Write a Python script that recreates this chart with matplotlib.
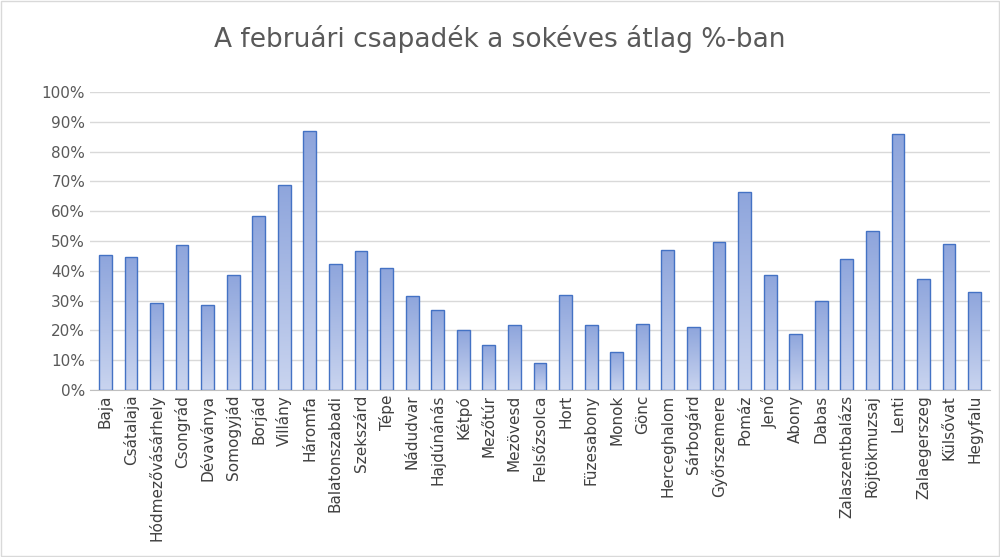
import matplotlib
matplotlib.use("Agg")
import matplotlib.pyplot as plt
import numpy as np
from matplotlib.patches import Rectangle

cities = ["Baja","Csátalaja","Hódmezővásárhely","Csongrád","Dévaványa","Somogyjád","Borjád","Villány","Háromfa","Balatonszabadi","Szekszárd","Tépe","Nádudvar","Hajdúnánás","Kétpó","Mezőtúr","Mezövesd","Felsőzsolca","Hort","Füzesabony","Monok","Gönc","Herceghalom","Sárbogárd","Győrszemere","Pomáz","Jenő","Abony","Dabas","Zalaszentbalázs","Röjtökmuzsaj","Lenti","Zalaegerszeg","Külsővat","Hegyfalu"]
values = [45.3,44.5,29.2,48.6,28.5,38.7,58.2,68.8,86.9,42.3,46.6,41.0,31.6,26.8,20.1,15.1,21.8,9.0,32.0,21.8,12.8,22.1,47.1,21.1,49.5,66.4,38.4,18.8,29.9,44.0,53.3,85.9,37.3,49.0,32.9]

fig = plt.figure(figsize=(10, 5.57), dpi=100)
ax = fig.add_axes([0.09, 0.30, 0.90, 0.535])
x = np.arange(len(cities))
bars = ax.bar(x, values, width=0.5, color="none", edgecolor="#4472c4", linewidth=1.0, zorder=3)
grad = np.linspace(0, 1, 256).reshape(-1, 1)
from matplotlib.colors import LinearSegmentedColormap
cmap = LinearSegmentedColormap.from_list("g", ["#c9d4ef", "#8ea5dc"])
for b in bars:
    im = ax.imshow(grad, cmap=cmap, aspect="auto", origin="lower",
                   extent=[b.get_x(), b.get_x()+b.get_width(), 0, b.get_height()], zorder=2)
    im.set_clip_path(b)
ax.set_xlim(-0.6, len(cities)-0.4)
ax.set_ylim(0, 100)
ax.set_yticks(np.arange(0, 101, 10))
ax.set_yticklabels([f"{v}%" for v in range(0, 101, 10)], color="#595959", fontsize=11)
ax.set_xticks(x)
ax.set_xticklabels(cities, rotation=90, color="#404040", fontsize=11)
ax.grid(axis="y", color="#d9d9d9", linewidth=1, zorder=0)
for s in ["top", "right", "left"]:
    ax.spines[s].set_visible(False)
ax.spines["bottom"].set_color("#bfbfbf")
ax.tick_params(length=0)
fig.text(0.5, 0.93, "A februári csapadék a sokéves átlag %-ban", ha="center", va="center", fontsize=19, color="#595959")
fig.patches.append(Rectangle((0.001, 0.001), 0.998, 0.998, transform=fig.transFigure, fill=False, edgecolor="#d9d9d9", linewidth=1))
fig.savefig("out.png", dpi=100)
